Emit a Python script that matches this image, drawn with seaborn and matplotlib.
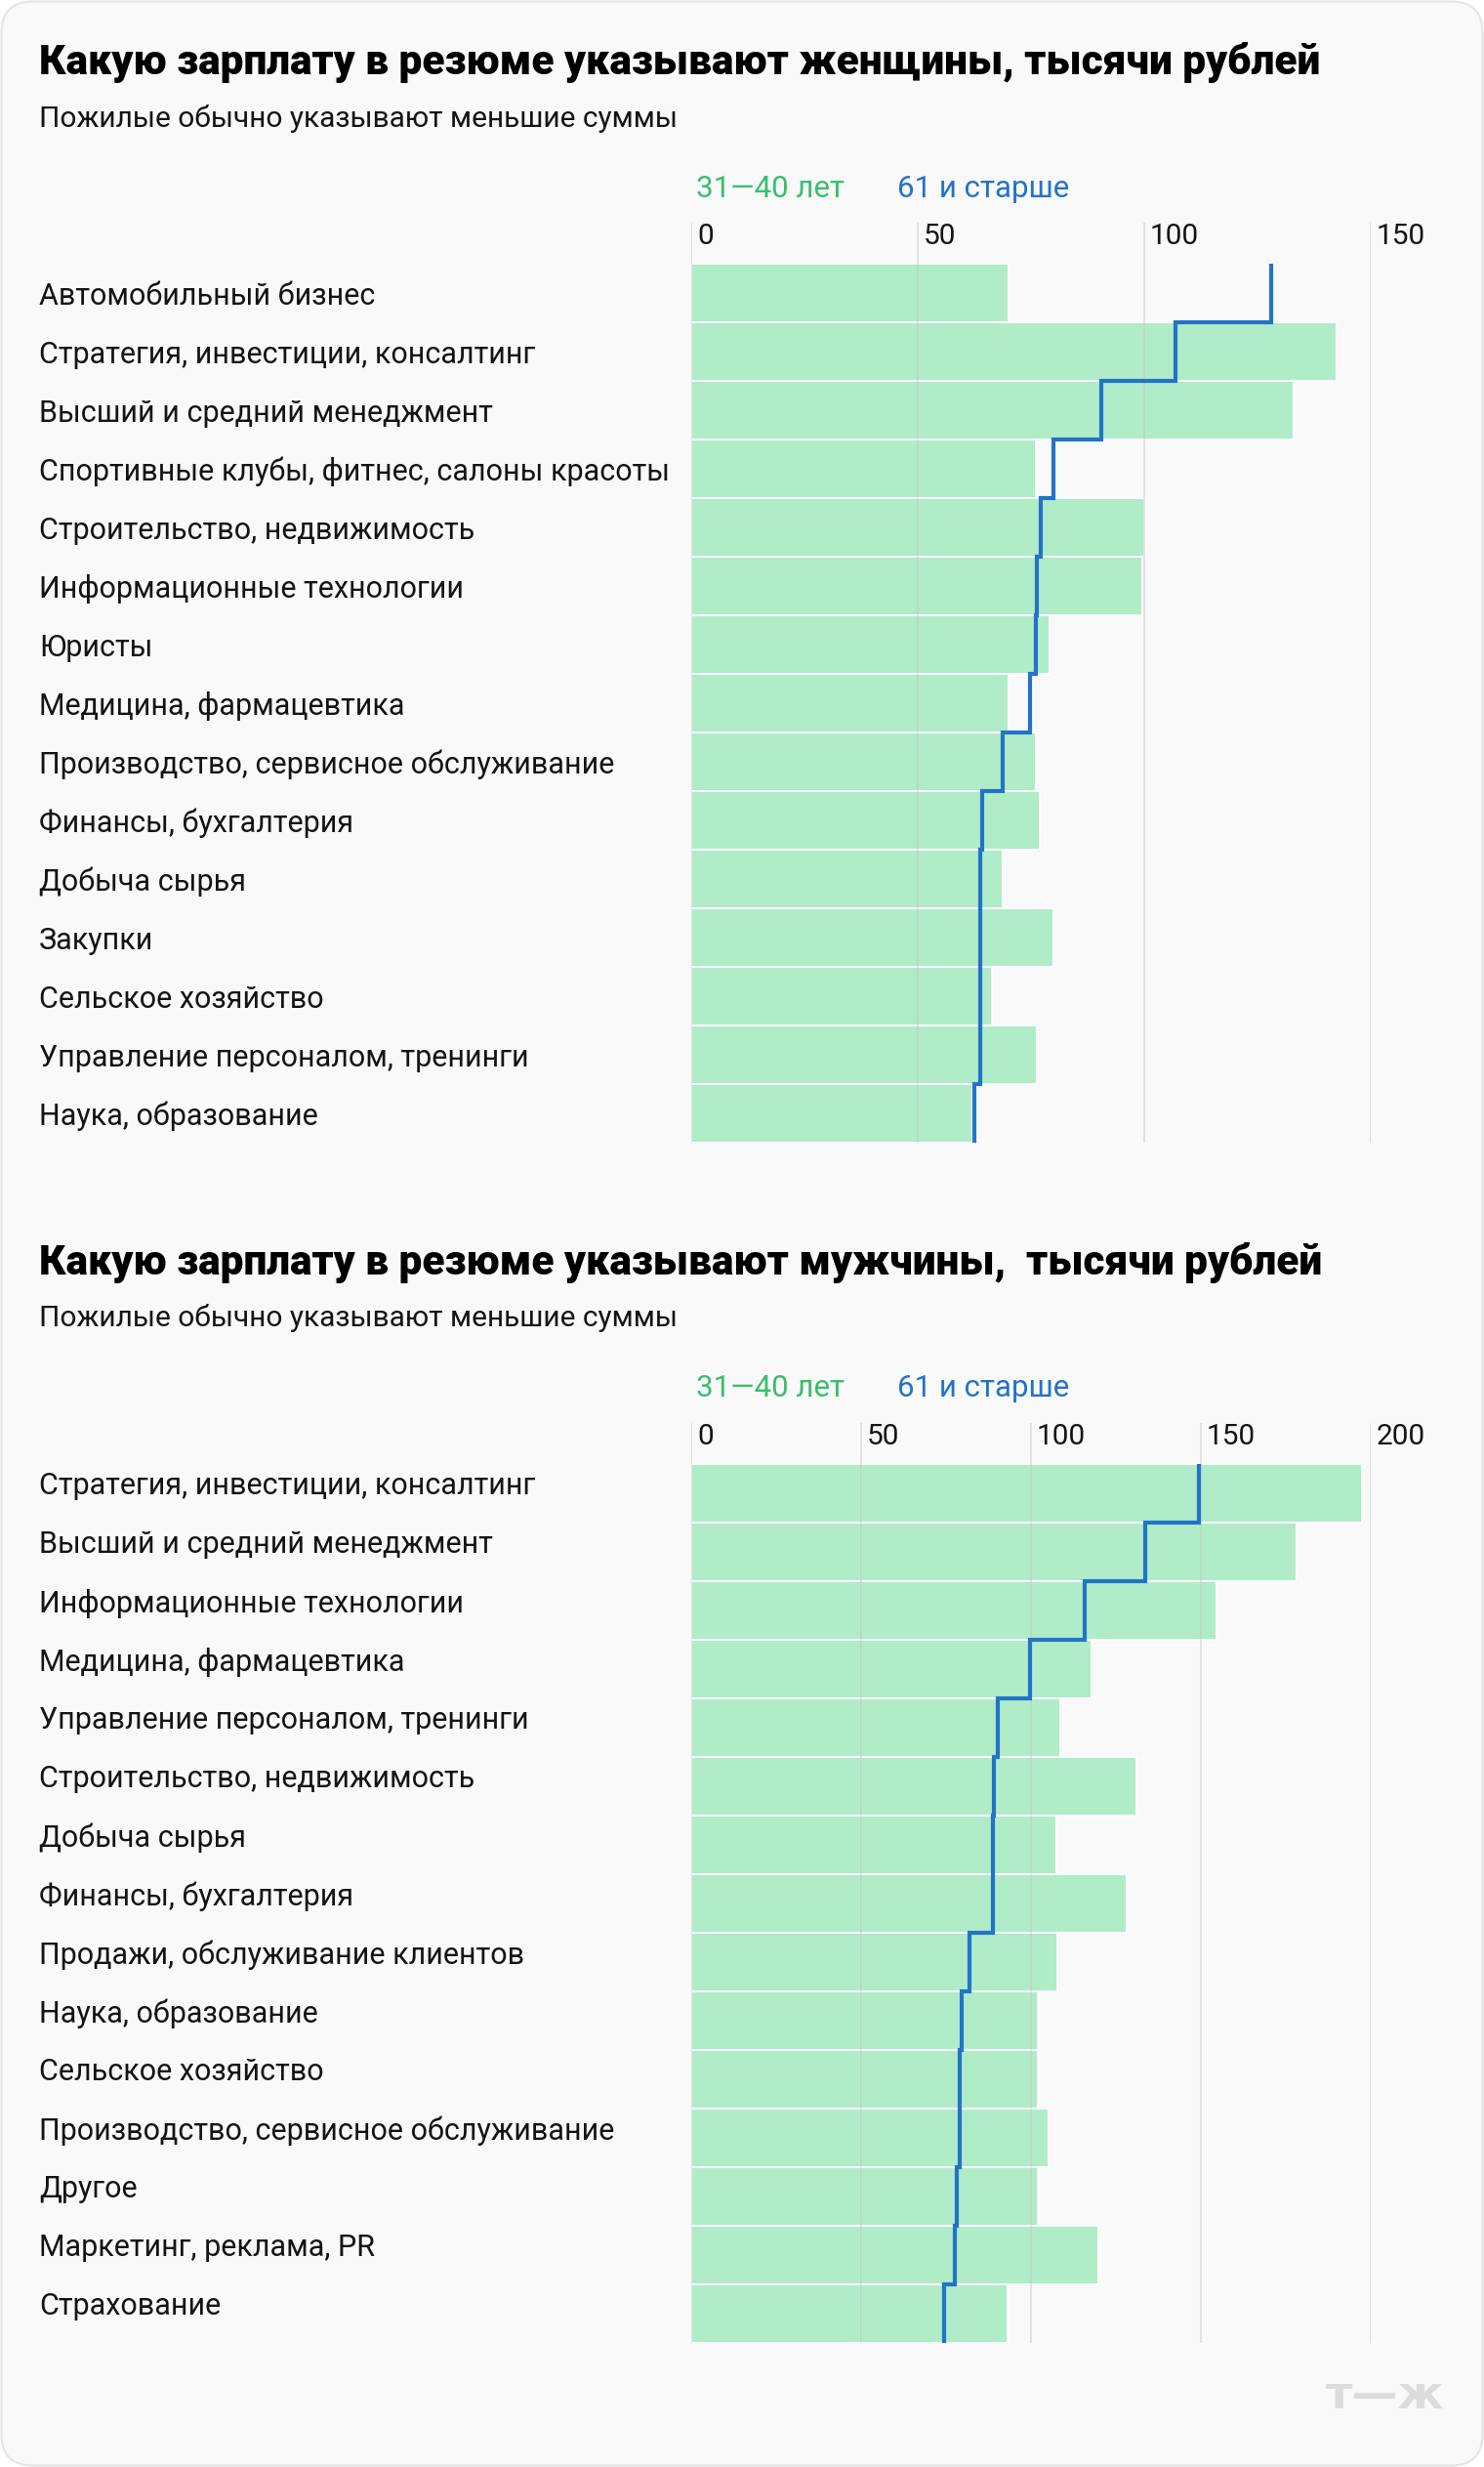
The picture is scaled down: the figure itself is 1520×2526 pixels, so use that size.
import numpy as np
import matplotlib.pyplot as plt
import matplotlib.transforms as mtransforms
from matplotlib.patches import FancyBboxPatch
import seaborn as sns

# --- data (thousand rubles) ---
women_categories = [
    "Автомобильный бизнес",
    "Стратегия, инвестиции, консалтинг",
    "Высший и средний менеджмент",
    "Спортивные клубы, фитнес, салоны красоты",
    "Строительство, недвижимость",
    "Информационные технологии",
    "Юристы",
    "Медицина, фармацевтика",
    "Производство, сервисное обслуживание",
    "Финансы, бухгалтерия",
    "Добыча сырья",
    "Закупки",
    "Сельское хозяйство",
    "Управление персоналом, тренинги",
    "Наука, образование",
]
women_31_40 = [70, 142.5, 133, 76, 100, 99.5, 79, 70, 76, 77, 68.8, 80, 66.4, 76.2, 62]
women_61_plus = [128.1, 106.8, 90.5, 79.9, 77.1, 76.3, 76.0, 74.8, 68.8, 64.3, 63.8, 63.8, 63.8, 63.8, 62.4]
women_ticks = [0, 50, 100, 150]

men_categories = [
    "Стратегия, инвестиции, консалтинг",
    "Высший и средний менеджмент",
    "Информационные технологии",
    "Медицина, фармацевтика",
    "Управление персоналом, тренинги",
    "Строительство, недвижимость",
    "Добыча сырья",
    "Финансы, бухгалтерия",
    "Продажи, обслуживание клиентов",
    "Наука, образование",
    "Сельское хозяйство",
    "Производство, сервисное обслуживание",
    "Другое",
    "Маркетинг, реклама, PR",
    "Страхование",
]
men_31_40 = [197.4, 178.2, 154.6, 117.8, 108.6, 130.9, 107.4, 128.2, 107.7, 102.0, 102.0, 105.2, 102.0, 119.8, 93.1]
men_61_plus = [149.4, 133.5, 115.7, 99.7, 90.2, 89.1, 88.8, 88.8, 81.9, 79.6, 79.0, 79.0, 78.2, 77.6, 74.3]
men_ticks = [0, 50, 100, 150, 200]

legend_labels = ["31—40 лет", "61 и старше"]
subtitle = "Пожилые обычно указывают меньшие суммы"

GREEN_BAR = "#B0ECC8"
GREEN_TEXT = "#3BBD6E"
BLUE = "#2373C8"
TEXT = "#141414"

sns.set_style("white")
plt.rcParams["font.family"] = ["Roboto", "DejaVu Sans"]

W, H = 1520, 2526
fig = plt.figure(figsize=(W / 100, H / 100), dpi=100, facecolor="white")

card = FancyBboxPatch((0.015, 0.015), W / 100 - 0.03, H / 100 - 0.03,
                      boxstyle="round,pad=0,rounding_size=0.32",
                      transform=fig.dpi_scale_trans, zorder=-10,
                      facecolor="#F9F9F9", edgecolor="#E4E4E4", linewidth=1.5)
fig.patches.append(card)


def panel(top, title, cats, young, old, ticks, label_lift=0):
    # top = pixel y of the title centre; everything else hangs from it
    grid_top = top + 164
    bars_bottom = top + 1106
    ax = fig.add_axes([708 / W, 1 - bars_bottom / H, 696 / W, (bars_bottom - grid_top) / H])
    ax.set_facecolor("none")

    sns.barplot(x=young, y=cats, orient="h", color=GREEN_BAR, saturation=1,
                width=1, edgecolor="white", linewidth=1.3, errorbar=None, ax=ax)

    n = len(cats)
    edges = np.arange(n + 1) - 0.5
    ys = np.column_stack([edges[:-1], edges[1:]]).ravel()
    xs = np.repeat(old, 2)
    ax.plot(xs, ys, color=BLUE, lw=3, zorder=5,
            solid_joinstyle="miter", solid_capstyle="butt")

    ax.set_xlim(0, ticks[-1])
    ax.set_ylim(n - 0.5, -1.2)
    ax.set_xlabel("")
    ax.set_ylabel("")
    for s in ax.spines.values():
        s.set_visible(False)

    ax.grid(axis="x", color="#C4C4C4", alpha=0.5, lw=1.2)
    ax.grid(axis="y", visible=False)
    ax.set_axisbelow(False)

    ax.set_xticks(ticks)
    ax.xaxis.tick_top()
    ax.tick_params(axis="x", length=0, pad=0, labelsize=21.5, labelcolor=TEXT)
    shift = mtransforms.ScaledTranslation(0.06, 0, fig.dpi_scale_trans)
    for lab in ax.get_xticklabels():
        lab.set_ha("left")
        lab.set_va("top")
        lab.set_transform(lab.get_transform() + shift)

    ax.tick_params(axis="y", length=0, pad=481, labelsize=22, labelcolor=TEXT)
    lift = mtransforms.ScaledTranslation(0, label_lift / 100, fig.dpi_scale_trans)
    for lab in ax.get_yticklabels():
        lab.set_ha("left")
        lab.set_transform(lab.get_transform() + lift)

    fig.text(40 / W, 1 - top / H, title, fontsize=30.5, fontweight="heavy",
             color="black", va="center")
    fig.text(40 / W, 1 - (top + 57) / H, subtitle, fontsize=21.5, color=TEXT, va="center")
    fig.text(713 / W, 1 - (top + 129) / H, legend_labels[0], fontsize=22.5,
             color=GREEN_TEXT, va="center")
    fig.text(919 / W, 1 - (top + 129) / H, legend_labels[1], fontsize=22.5,
             color=BLUE, va="center")
    return ax


panel(64, "Какую зарплату в резюме указывают женщины, тысячи рублей",
      women_categories, women_31_40, women_61_plus, women_ticks)
panel(1293, "Какую зарплату в резюме указывают мужчины,  тысячи рублей",
      men_categories, men_31_40, men_61_plus, men_ticks, label_lift=10)

fig.text(1479 / W, 1 - 2466 / H, "т—ж", ha="right", va="baseline", fontsize=34,
         fontweight="bold", color="#DCDCDC", family="DejaVu Sans")

fig.savefig("out.png", dpi=100, facecolor=fig.get_facecolor())
